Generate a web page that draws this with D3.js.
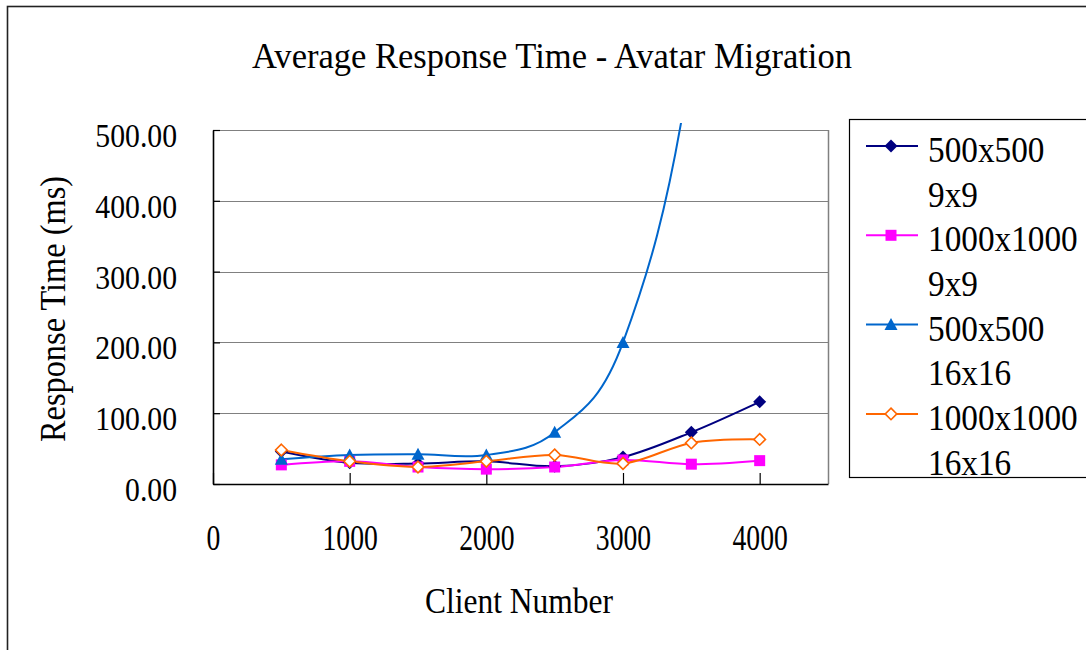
<!DOCTYPE html>
<html>
<head>
<meta charset="utf-8">
<script src="https://cdn.jsdelivr.net/npm/d3@7"></script>
<style>
  body { margin: 0; background: #fff; }
  text { font-family: "Liberation Serif", "Times New Roman", serif; fill: #000; }
</style>
</head>
<body>
<svg id="chart" width="1086" height="650"></svg>
<script>
// Client counts along the x axis
const clients = [500, 1000, 1500, 2000, 2500, 3000, 3500, 4000];

// Average response time (ms) for each map size / grid configuration
const rt500x500_9x9     = [46, 30, 29, 32, 25, 38, 73, 116];
const rt1000x1000_9x9   = [27, 32, 24, 21, 24, 34, 28, 33];
const rt500x500_16x16   = [35, 41, 42, 41, 73, 200, 600, 1500];
const rt1000x1000_16x16 = [48, 32, 24, 32, 41, 29, 58, 63];

const seriesLabels = [
  ["500x500", "9x9"],
  ["1000x1000", "9x9"],
  ["500x500", "16x16"],
  ["1000x1000", "16x16"]
];
const yTickValues = [0, 100, 200, 300, 400, 500];
const xTickValues = [0, 1000, 2000, 3000, 4000];

const titleText = "Average Response Time - Avatar Migration";
const xTitleText = "Client Number";
const yTitleText = "Response Time (ms)";

const series = [
  { values: rt500x500_9x9,     color: "#000080", marker: "diamond" },
  { values: rt1000x1000_9x9,   color: "#FF00FF", marker: "square" },
  { values: rt500x500_16x16,   color: "#0066CC", marker: "triangle" },
  { values: rt1000x1000_16x16, color: "#FF6600", marker: "hollowDiamond" }
];
series.forEach((s, i) => s.label = seriesLabels[i]);

const svg = d3.select("#chart");
const plot = { left: 213, right: 828, top: 130, bottom: 484 };

const x = d3.scaleLinear().domain([0, 4500]).range([plot.left, plot.right]);
const y = d3.scaleLinear().domain([0, 500]).range([plot.bottom, plot.top]);

// Horizontally condense a text element to a fraction of its natural width
function squeeze(sel, factor) {
  sel.each(function () {
    const w = this.getComputedTextLength();
    d3.select(this).attr("textLength", w * factor).attr("lengthAdjust", "spacingAndGlyphs");
  });
}
function fitWidth(sel, width) {
  sel.attr("textLength", width).attr("lengthAdjust", "spacingAndGlyphs");
}

// Outer chart frame
svg.append("rect")
  .attr("x", 7.5).attr("y", 6.5).attr("width", 1100).attr("height", 700)
  .attr("fill", "none").attr("stroke", "#222").attr("stroke-width", 1.6);

// Title
svg.append("text")
  .attr("x", 552).attr("y", 68).attr("text-anchor", "middle")
  .style("font-size", "35px").text(titleText)
  .call(fitWidth, 600);

// Gridlines
svg.append("g").selectAll("line")
  .data(yTickValues.filter(v => v > 0))
  .join("line")
  .attr("x1", plot.left).attr("x2", plot.right)
  .attr("y1", d => Math.round(y(d)) + 0.5).attr("y2", d => Math.round(y(d)) + 0.5)
  .attr("stroke", "#808080").attr("stroke-width", 1.2);

// Plot area border (right side)
svg.append("line")
  .attr("x1", plot.right + 0.5).attr("x2", plot.right + 0.5)
  .attr("y1", plot.top).attr("y2", plot.bottom)
  .attr("stroke", "#808080").attr("stroke-width", 1.5);

// Y axis
const yAxis = svg.append("g")
  .attr("transform", `translate(${plot.left},0)`)
  .call(d3.axisLeft(y).tickValues(yTickValues).tickFormat(d3.format(".2f"))
    .tickSizeInner(-7).tickSizeOuter(0).tickPadding(36));
yAxis.select(".domain").attr("stroke", "#000").attr("stroke-width", 1.6);
yAxis.selectAll(".tick line").attr("stroke", "#000").attr("stroke-width", 1.2);
yAxis.selectAll(".tick text")
  .attr("dy", "0.5em")
  .style("font-size", "33px").style("font-family", "'Liberation Serif', serif")
  .call(squeeze, 0.9);

// X axis
const xAxis = svg.append("g")
  .attr("transform", `translate(0,${plot.bottom})`)
  .call(d3.axisBottom(x).tickValues(xTickValues).tickFormat(d3.format("d"))
    .tickSizeInner(-11).tickSizeOuter(0).tickPadding(41));
xAxis.select(".domain").attr("stroke", "#000").attr("stroke-width", 1.6);
xAxis.selectAll(".tick line").attr("stroke", "#000").attr("stroke-width", 1.2);
xAxis.selectAll(".tick text")
  .style("font-size", "35px").style("font-family", "'Liberation Serif', serif")
  .call(squeeze, 0.79);

// Axis titles
svg.append("text")
  .attr("x", 519).attr("y", 613).attr("text-anchor", "middle")
  .style("font-size", "35px").text(xTitleText)
  .call(fitWidth, 188);
svg.append("text")
  .attr("transform", "translate(65,309) rotate(-90)")
  .attr("text-anchor", "middle")
  .style("font-size", "35px").text(yTitleText)
  .call(fitWidth, 266);

// Clip the series to the plot area (lines may run slightly past the top edge)
svg.append("clipPath").attr("id", "plot-clip")
  .append("rect")
  .attr("x", plot.left).attr("y", plot.top - 7)
  .attr("width", plot.right - plot.left).attr("height", plot.bottom - plot.top + 7);

const line = d3.line()
  .x((d, i) => x(clients[i]))
  .y(d => y(d))
  .curve(d3.curveCardinal.tension(0));

const seriesG = svg.append("g").attr("clip-path", "url(#plot-clip)");

function drawMarker(g, type, color) {
  if (type === "diamond") {
    g.append("path").attr("d", "M0,-6.5L6.5,0L0,6.5L-6.5,0Z").attr("fill", color);
  } else if (type === "square") {
    g.append("rect").attr("x", -5.5).attr("y", -5.5).attr("width", 11).attr("height", 11).attr("fill", color);
  } else if (type === "triangle") {
    g.append("path").attr("d", "M0,-6.5L6.5,5.5L-6.5,5.5Z").attr("fill", color);
  } else {
    g.append("path").attr("d", "M0,-5.8L5.8,0L0,5.8L-5.8,0Z")
      .attr("fill", "#fff").attr("stroke", color).attr("stroke-width", 1.6);
  }
}

series.forEach(s => {
  seriesG.append("path")
    .datum(s.values)
    .attr("fill", "none")
    .attr("stroke", s.color)
    .attr("stroke-width", 2)
    .attr("d", line);
});
series.forEach(s => {
  s.values.forEach((v, i) => {
    if (v > 500) return;
    const g = seriesG.append("g").attr("transform", `translate(${x(clients[i])},${y(v)})`);
    drawMarker(g, s.marker, s.color);
  });
});

// Legend
const legend = svg.append("g");
legend.append("rect")
  .attr("x", 849.5).attr("y", 119.5).attr("width", 260).attr("height", 358)
  .attr("fill", "#fff").attr("stroke", "#000").attr("stroke-width", 1.2);

series.forEach((s, i) => {
  const baseY = 162 + i * 89.3;
  const item = legend.append("g");
  item.append("line")
    .attr("x1", 866).attr("x2", 918)
    .attr("y1", baseY - 16).attr("y2", baseY - 16)
    .attr("stroke", s.color).attr("stroke-width", 2);
  const m = item.append("g").attr("transform", `translate(891,${baseY - 16})`);
  drawMarker(m, s.marker, s.color);
  s.label.forEach((t, j) => {
    item.append("text")
      .attr("x", 928).attr("y", baseY + j * 44.6)
      .style("font-size", "35px").text(t)
      .call(squeeze, 0.95);
  });
});
</script>
</body>
</html>
